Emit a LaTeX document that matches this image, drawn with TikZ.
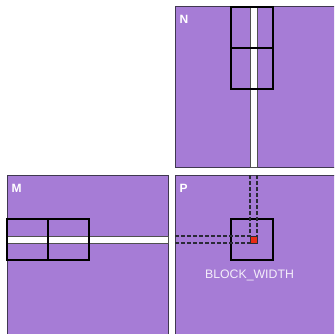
\documentclass[tikz,border=0pt]{standalone}
\usepackage{fontspec}
\setmainfont{Liberation Sans}
\begin{document}
\begin{tikzpicture}[x=1pt,y=-1pt,
  mat/.style={fill=matfill,draw=matline,line width=1pt},
  strip/.style={fill=white,draw=stripline,line width=0.8pt},
  blk/.style={draw=black,line width=2pt},
  guide/.style={draw=guideline,line width=1.2pt,dash pattern=on 4pt off 2pt},
  lbl/.style={text=white,font=\bfseries\fontsize{12}{12}\selectfont,inner sep=0pt},
  wlbl/.style={text=lblcol,font=\fontsize{12.3}{12}\selectfont,inner sep=0pt}]
\definecolor{matfill}{HTML}{A67CD6}
\definecolor{matline}{HTML}{403850}
\definecolor{stripline}{HTML}{505050}
\definecolor{guideline}{HTML}{2A2A35}
\definecolor{lblcol}{HTML}{F4EEFA}
\definecolor{redcell}{HTML}{E82A14}
\useasboundingbox (0,0) rectangle (334,334);
\clip (0,0) rectangle (334,334);
% matrices
\draw[mat] (175,7) rectangle (340,167.5);
\draw[mat] (7,175) rectangle (168,340);
\draw[mat] (175,175) rectangle (340,340);
% strips
\draw[strip] (250,7) rectangle (257,167.5);
\draw[strip] (7,236) rectangle (168,243);
% blocks on N
\draw[blk] (231,7.5) rectangle (273,48.5);
\draw[blk] (231,48.5) rectangle (273,89.5);
% blocks on M
\draw[blk] (6.5,219) rectangle (47.5,260);
\draw[blk] (47.5,219) rectangle (89,260);
% block on P
\draw[blk] (231,219) rectangle (273,260);
% guides
\coordinate (v1top) at (250,175);
\coordinate (v2top) at (257,175);
\coordinate (h1left) at (175,236);
\coordinate (h2left) at (175,243);
\coordinate (c1) at (250,236);
\coordinate (c2) at (257,236);
\coordinate (c3) at (250,243);
\draw[guide] (v1top) -- (c1);
\draw[guide] (v2top) -- (c2);
\draw[guide] (h1left) -- (c1);
\draw[guide] (h2left) -- (c3);
% red cell
\draw[fill=redcell,draw=guideline,line width=0.8pt] (250,236) rectangle (257,243);
% labels
\node[lbl,anchor=base west] (nl) at (179.5,24) {N};
\node[lbl,anchor=base west] (ml) at (11.5,192) {M};
\node[lbl,anchor=base west] (pl) at (179.5,192) {P};
\node[wlbl,anchor=base] (bw) at (249.5,278) {BLOCK\_WIDTH};
\end{tikzpicture}
\end{document}
